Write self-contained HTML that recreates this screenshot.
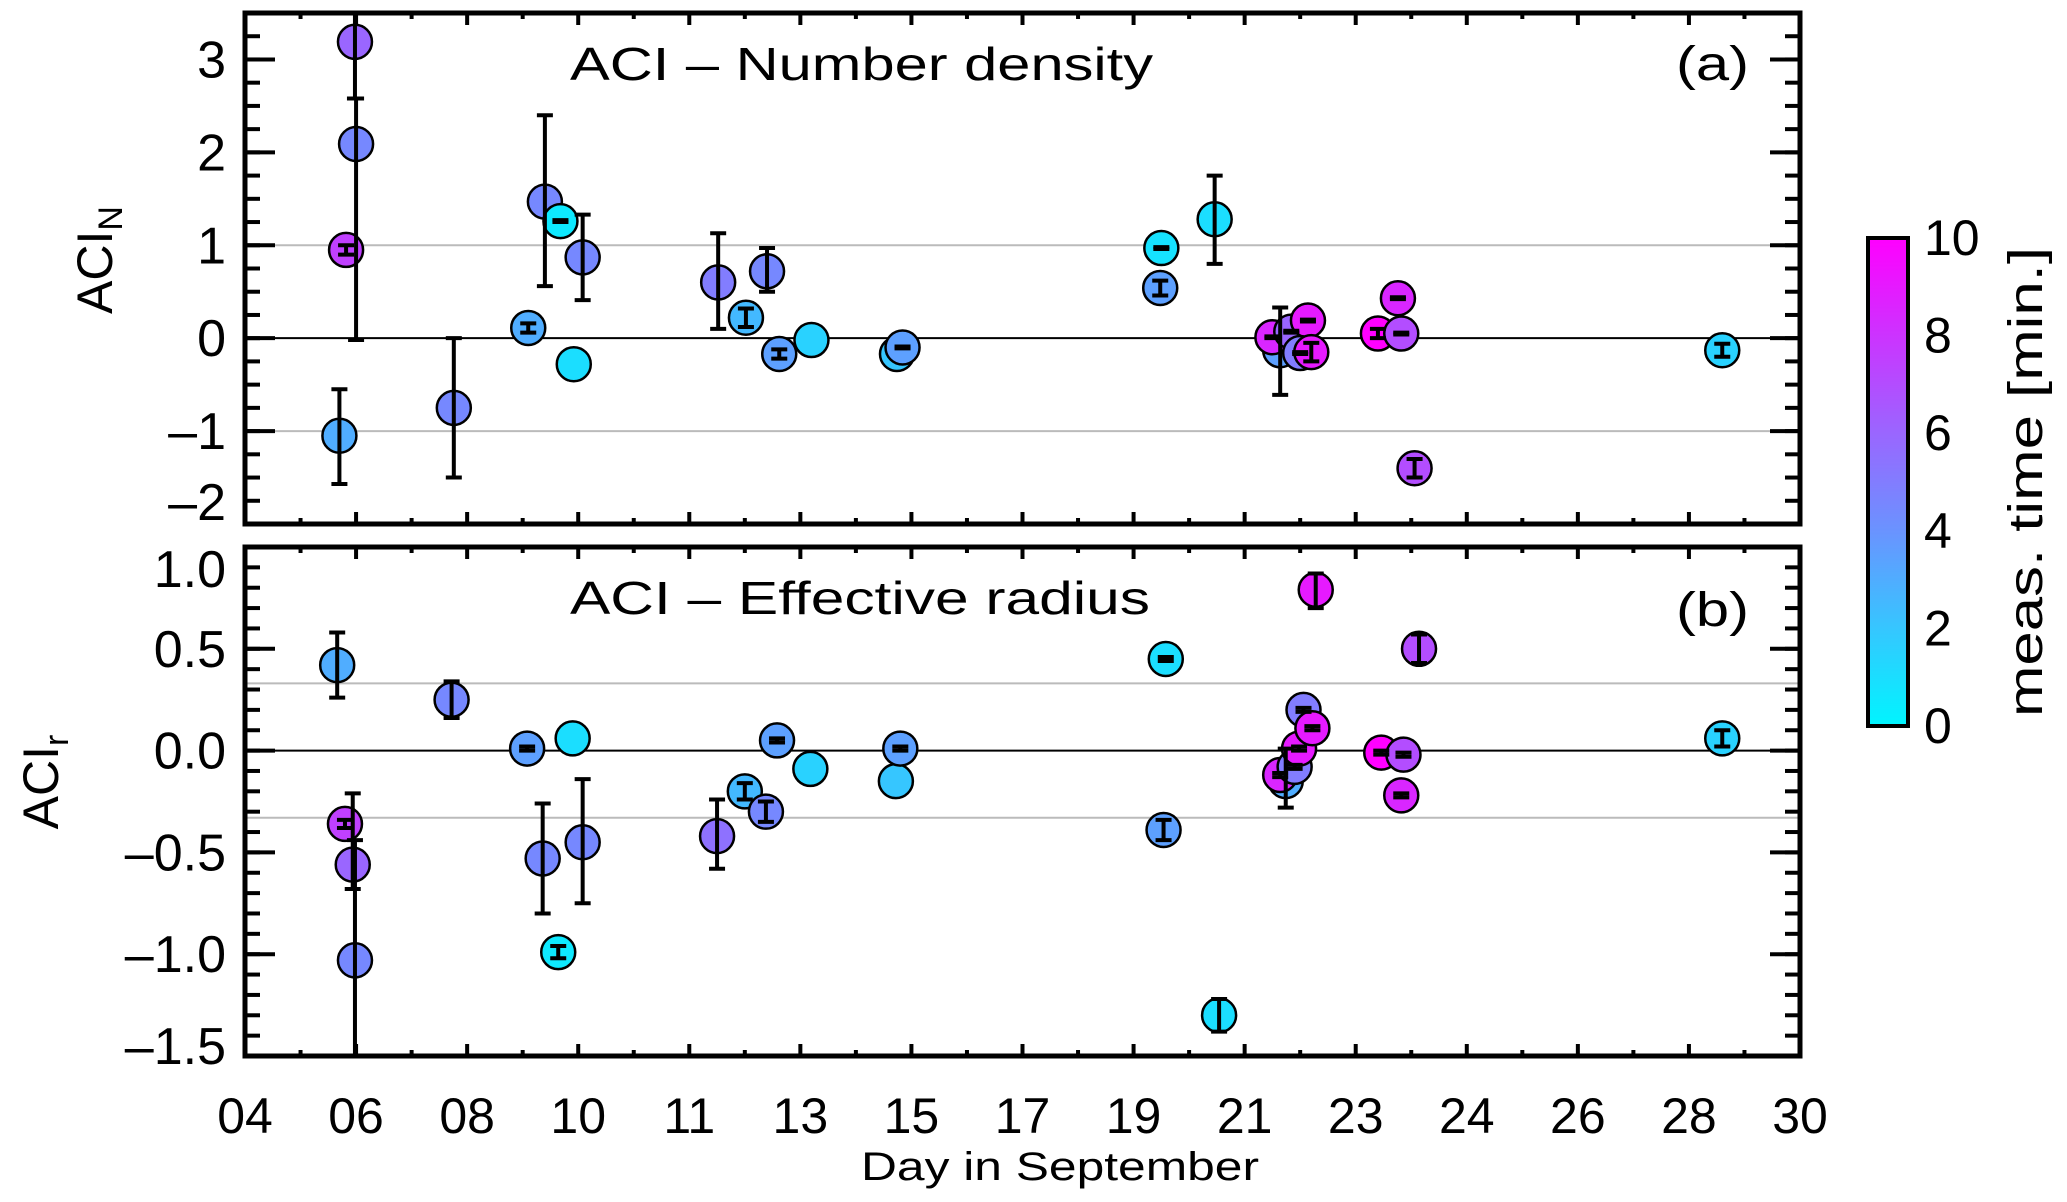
<!DOCTYPE html>
<html>
<head>
<meta charset="utf-8">
<style>
html,body{margin:0;padding:0;background:#fff;}
svg{display:block;font-family:"Liberation Sans",sans-serif;}
</style>
</head>
<body>
<svg id="chart" width="2067" height="1202" viewBox="0 0 2067 1202" xmlns="http://www.w3.org/2000/svg">
<defs>
<linearGradient id="cbgrad" x1="0" y1="1" x2="0" y2="0">
<stop offset="0" stop-color="#00f5ff"/>
<stop offset="0.2" stop-color="#36c6ff"/>
<stop offset="0.4" stop-color="#6a93ff"/>
<stop offset="0.6" stop-color="#9a66ff"/>
<stop offset="0.8" stop-color="#cc33ff"/>
<stop offset="1" stop-color="#ff00ff"/>
</linearGradient>
</defs>
<g id="layer"></g>
</svg>
<script>
const xTickLabels = ["04","06","08","10","11","13","15","17","19","21","23","24","26","28","30"];
const aYTicks = [-2,-1,0,1,2,3];
const bYTicks = [-1.5,-1.0,-0.5,0.0,0.5,1.0];
const bYTickLabels = ["–1.5","–1.0","–0.5","0.0","0.5","1.0"];
const aYTickLabels = ["–2","–1","0","1","2","3"];
const cbTicks = [0,2,4,6,8,10];

// Panel (a): ACI number density
const aDay  = [0.85,1.88,0.99,1.00,0.91,2.55,2.70,2.84,3.04,2.96,4.26,4.51,4.70,4.81,5.10,5.87,5.92,8.25,8.24,8.73,9.32,9.25,9.42,9.57,9.50,9.60,10.20,10.41,10.38,10.53,13.30];
const aVal  = [-1.05,-0.75,3.19,2.09,0.95,0.11,1.47,1.26,0.87,-0.28,0.60,0.22,0.72,-0.17,-0.02,-0.17,-0.10,0.97,0.54,1.28,-0.13,0.01,0.07,0.19,-0.16,-0.15,0.05,0.05,0.43,-1.40,-0.13];
const aLo   = [-1.57,-1.5,2.58,-0.02,0.90,0.06,0.56,1.25,0.41,null,0.10,0.12,0.50,-0.22,null,null,-0.11,0.96,0.46,0.80,-0.61,0.00,0.06,0.18,-0.17,-0.25,0.00,0.04,0.42,-1.50,-0.20];
const aHi   = [-0.55,0.0,3.6,2.58,1.00,0.16,2.40,1.27,1.33,null,1.13,0.32,0.97,-0.12,null,null,-0.09,0.98,0.62,1.75,0.33,0.02,0.08,0.20,-0.15,-0.05,0.10,0.06,0.44,-1.30,-0.06];
const aTime = [3,4.5,6,4.5,7.5,3,4.5,0.5,4.5,1,5,2.5,4.5,3.5,1.5,2,3.5,0.8,3.5,1,3.5,8.5,6,9,5,9,10,7,8.5,7,1.5];

// Panel (b): ACI effective radius
const bDay  = [0.83,1.86,2.54,2.95,0.90,0.97,0.99,2.68,3.04,2.82,4.25,4.50,4.69,4.79,5.09,5.86,5.90,8.29,8.27,8.77,9.37,9.32,9.45,9.49,9.53,9.61,9.64,10.23,10.43,10.41,10.57,13.30];
const bVal  = [0.42,0.25,0.01,0.06,-0.36,-0.56,-1.03,-0.53,-0.45,-0.99,-0.42,-0.20,-0.30,0.05,-0.09,-0.15,0.01,0.45,-0.39,-1.30,-0.15,-0.12,-0.08,0.01,0.20,0.11,0.79,-0.01,-0.02,-0.22,0.50,0.06];
const bLo   = [0.26,0.16,0.00,null,-0.38,-0.68,-1.6,-0.80,-0.75,-1.02,-0.58,-0.24,-0.35,0.04,null,null,0.00,0.44,-0.44,-1.38,-0.28,-0.13,-0.09,0.00,0.19,0.10,0.70,-0.02,-0.03,-0.23,0.43,0.02];
const bHi   = [0.58,0.34,0.02,null,-0.34,-0.21,-0.44,-0.26,-0.14,-0.96,-0.24,-0.16,-0.25,0.06,null,null,0.02,0.46,-0.34,-1.22,0.01,-0.11,-0.07,0.02,0.21,0.12,0.87,0.00,-0.01,-0.21,0.57,0.10];
const bTime = [3,4.5,3.5,1,7.5,6,4.5,4.5,4.5,0.5,5.5,2.5,4.5,3.5,1.5,2,3.5,1,3.5,1,3,8.5,5,9,5,9,9,10,7,8.5,7,1.5];

const NS = "http://www.w3.org/2000/svg";
const layer = document.getElementById('layer');
const X0 = 245, X1 = 1800;
const xS = i => X0 + i * (X1 - X0) / 14;
const A = {top:13, bot:524, min:-2, max:3.5};
const B = {top:547, bot:1056, min:-1.5, max:1.0};
const yA = v => A.bot - (v - A.min) * (A.bot - A.top) / (A.max - A.min);
const yB = v => B.bot - (v - B.min) * (B.bot - B.top) / (B.max - B.min);

function mk(tag, attrs, parent){
  const e = document.createElementNS(NS, tag);
  for (const k in attrs) e.setAttribute(k, attrs[k]);
  (parent || layer).appendChild(e);
  return e;
}
const stops = [[0,[0,245,255]],[2,[54,198,255]],[4,[106,147,255]],[6,[154,102,255]],[8,[204,51,255]],[10,[255,0,255]]];
function cmap(t){
  t = Math.max(0, Math.min(10, t));
  for (let i=0;i<stops.length-1;i++){
    const [t0,c0]=stops[i],[t1,c1]=stops[i+1];
    if (t<=t1){ const f=(t-t0)/(t1-t0);
      return 'rgb('+c0.map((c,j)=>Math.round(c+(c1[j]-c)*f)).join(',')+')'; }
  }
  return 'rgb(255,0,255)';
}

function panel(P, ys, yTicks, yLabels, minorStep, refLines, name){
  const g = mk('g', {});
  
  
  refLines.forEach(v => {
    const l = mk('line', {x1:X0, x2:X1, y1:ys(v), y2:ys(v), stroke:'#bbb', 'stroke-width':2}, g);
    
    
  });
  const z = mk('line', {x1:X0, x2:X1, y1:ys(0), y2:ys(0), stroke:'#000', 'stroke-width':2}, g);
  
  
  const n = Math.round((P.max - P.min)/minorStep);
  for (let k=0;k<=n;k++){
    const v = P.min + k*minorStep, y = ys(v);
    mk('line', {x1:X0, x2:X0+15, y1:y, y2:y, stroke:'#000', 'stroke-width':4}, g);
    mk('line', {x1:X1, x2:X1-15, y1:y, y2:y, stroke:'#000', 'stroke-width':4}, g);
  }
  yTicks.forEach((v,i) => {
    const y = ys(v);
    mk('line', {x1:X0, x2:X0+30, y1:y, y2:y, stroke:'#000', 'stroke-width':4}, g);
    mk('line', {x1:X1, x2:X1-30, y1:y, y2:y, stroke:'#000', 'stroke-width':4}, g);
    let off = 18;
    if (Math.abs(y - P.bot) < 2) off = (P.bot - P.top) > 0 && name === 'panel-a' ? -4 : 8;
    if (Math.abs(y - P.top) < 2) off = 40;
    const t = mk('text', {x:226, y:y+off, 'text-anchor':'end', 'font-size':52, fill:'#000'}, g);
    t.textContent = yLabels[i];
    
    
  });
  for (let k=0;k<=28;k++){
    const x = xS(k/2), len = (k%2===0)?12:6;
    mk('line', {x1:x, x2:x, y1:P.bot, y2:P.bot-len, stroke:'#000', 'stroke-width':4}, g);
    mk('line', {x1:x, x2:x, y1:P.top, y2:P.top+len, stroke:'#000', 'stroke-width':4}, g);
  }
  const fr = mk('rect', {x:X0, y:P.top, width:X1-X0, height:P.bot-P.top, fill:'none', stroke:'#000', 'stroke-width':5}, g);
  
  
  return g;
}

function series(P, ys, days, vals, lo, hi, times, name){
  const g = mk('g', {});
  
  
  const clip = v => Math.max(P.top, Math.min(P.bot, ys(v)));
  days.forEach((d,i) => {
    const c = mk('circle', {cx:xS(d), cy:ys(vals[i]), r:17, fill:cmap(times[i]), stroke:'#000', 'stroke-width':2.5}, g);
    
    
  });
  days.forEach((d,i) => {
    if (lo[i] === null) return;
    const x = xS(d), y1 = clip(hi[i]), y2 = clip(lo[i]);
    const eb = mk('g', {stroke:'#000', 'stroke-width':4}, g);
    
    
    mk('line', {x1:x, x2:x, y1:y1, y2:y2}, eb);
    if (y1 > P.top) mk('line', {x1:x-8, x2:x+8, y1:y1, y2:y1}, eb);
    if (y2 < P.bot) mk('line', {x1:x-8, x2:x+8, y1:y2, y2:y2}, eb);
  });
}

panel(A, yA, aYTicks, aYTickLabels, 0.25, [1,-1], 'panel-a');
panel(B, yB, bYTicks, bYTickLabels, 0.1, [0.33,-0.33], 'panel-b');
series(A, yA, aDay, aVal, aLo, aHi, aTime, 'series-number-density');
series(B, yB, bDay, bVal, bLo, bHi, bTime, 'series-effective-radius');

xTickLabels.forEach((s,i) => {
  const t = mk('text', {x:xS(i), y:1133, 'text-anchor':'middle', 'font-size':50, fill:'#000'});
  t.textContent = s;
  
  
});

const CB = {x:1868, w:40, top:238, bot:726};
const cbY = v => CB.bot - v*(CB.bot-CB.top)/10;
for (let v=1; v<10; v++){
  mk('line', {x1:CB.x+CB.w, x2:CB.x+CB.w-5, y1:cbY(v), y2:cbY(v), stroke:'#000', 'stroke-width':3});
}
cbTicks.forEach(v => {
  const t = mk('text', {x:1924, y:cbY(v)+17, 'font-size':50, fill:'#000'});
  t.textContent = String(v);
  
  
});
</script>
<script>
(function(){
  const NS="http://www.w3.org/2000/svg", svg=document.getElementById('chart');
  function add(html){ const g=document.createElementNS(NS,'g'); g.innerHTML=html; svg.appendChild(g); }
  add('<rect x="1868" y="238" width="40" height="488" fill="url(#cbgrad)" stroke="#000" stroke-width="4"/>');
  add('<text transform="translate(2042,482) rotate(-90)" text-anchor="middle" font-size="48" textLength="470" lengthAdjust="spacingAndGlyphs">meas. time [min.]</text>');
  add('<text x="570" y="80" font-size="46" textLength="583" lengthAdjust="spacingAndGlyphs">ACI – Number density</text>');
  add('<text x="570" y="614" font-size="46" textLength="580" lengthAdjust="spacingAndGlyphs">ACI – Effective radius</text>');
  add('<text x="1676" y="80" font-size="48" textLength="73" lengthAdjust="spacingAndGlyphs">(a)</text>');
  add('<text x="1676" y="626" font-size="48" textLength="73" lengthAdjust="spacingAndGlyphs">(b)</text>');
  add('<text x="861" y="1180" font-size="40" textLength="398" lengthAdjust="spacingAndGlyphs">Day in September</text>');
  add('<text transform="translate(112,260) rotate(-90)" text-anchor="middle" font-size="50">ACI<tspan font-size="34" dy="10">N</tspan></text>');
  add('<text transform="translate(58,782) rotate(-90)" text-anchor="middle" font-size="50">ACI<tspan font-size="34" dy="10">r</tspan></text>');
})();
</script>
</body>
</html>
